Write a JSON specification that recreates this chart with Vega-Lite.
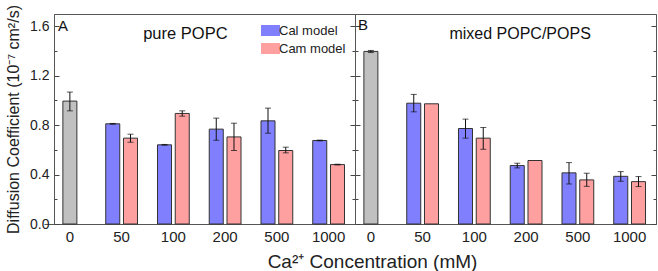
{
  "$schema": "https://vega.github.io/schema/vega-lite/v6.json",
  "padding": {"left": 5, "top": 4, "right": 1, "bottom": 0},
  "bounds": "flush",
  "datasets": {
    "popc": [
      {"conc": "0", "model": "Control", "value": 0.995, "lo": 0.916, "hi": 1.068},
      {"conc": "50", "model": "Cal model", "value": 0.811, "lo": 0.808, "hi": 0.814},
      {"conc": "50", "model": "Cam model", "value": 0.695, "lo": 0.662, "hi": 0.727},
      {"conc": "100", "model": "Cal model", "value": 0.641, "lo": 0.638, "hi": 0.644},
      {"conc": "100", "model": "Cam model", "value": 0.895, "lo": 0.873, "hi": 0.916},
      {"conc": "200", "model": "Cal model", "value": 0.768, "lo": 0.678, "hi": 0.857},
      {"conc": "200", "model": "Cam model", "value": 0.705, "lo": 0.595, "hi": 0.816},
      {"conc": "500", "model": "Cal model", "value": 0.835, "lo": 0.735, "hi": 0.938},
      {"conc": "500", "model": "Cam model", "value": 0.595, "lo": 0.576, "hi": 0.622},
      {"conc": "1000", "model": "Cal model", "value": 0.676, "lo": 0.673, "hi": 0.679},
      {"conc": "1000", "model": "Cam model", "value": 0.481, "lo": 0.478, "hi": 0.484}
    ],
    "mixed": [
      {"conc": "0", "model": "Control", "value": 1.397, "lo": 1.388, "hi": 1.405},
      {"conc": "50", "model": "Cal model", "value": 0.978, "lo": 0.908, "hi": 1.049},
      {"conc": "50", "model": "Cam model", "value": 0.973, "lo": null, "hi": null},
      {"conc": "100", "model": "Cal model", "value": 0.773, "lo": 0.695, "hi": 0.849},
      {"conc": "100", "model": "Cam model", "value": 0.695, "lo": 0.605, "hi": 0.781},
      {"conc": "200", "model": "Cal model", "value": 0.473, "lo": 0.454, "hi": 0.492},
      {"conc": "200", "model": "Cam model", "value": 0.514, "lo": null, "hi": null},
      {"conc": "500", "model": "Cal model", "value": 0.414, "lo": 0.324, "hi": 0.497},
      {"conc": "500", "model": "Cam model", "value": 0.357, "lo": 0.305, "hi": 0.411},
      {"conc": "1000", "model": "Cal model", "value": 0.386, "lo": 0.346, "hi": 0.424},
      {"conc": "1000", "model": "Cam model", "value": 0.343, "lo": 0.303, "hi": 0.384}
    ]
  },
  "spacing": 0,
  "title": {"text": "Ca²⁺ Concentration (mM)", "orient": "bottom", "anchor": "middle", "fontSize": 19, "font": "Liberation Sans", "fontWeight": "normal", "color": "#222", "offset": 8, "dx": 37},
  "hconcat": [
    {
      "width": 301, "height": 210,
      "data": {"name": "popc"},
      "layer": [
        {
          "transform": [{"filter": "datum.model != 'Control'"}],
          "mark": {"type": "bar", "stroke": "#333", "strokeWidth": 1},
          "encoding": {
            "x": {"field": "conc", "type": "nominal", "sort": ["0","50","100","200","500","1000"], "scale": {"range": [-10, 300.5], "paddingInner": 0, "paddingOuter": 0}, "axis": {"title": null, "ticks": false, "labelPadding": 5, "labelAngle": 0, "labelFontSize": 15}},
            "xOffset": {"field": "model", "type": "nominal", "scale": {"domain": ["Cal model","Cam model"], "paddingInner": 0.21, "paddingOuter": 0.563}},
            "y": {"field": "value", "type": "quantitative", "scale": {"domain": [0, 1.7], "nice": false}, "axis": {"orient": "left", "values": [0,0.2,0.4,0.6,0.8,1.0,1.2,1.4,1.6], "labelExpr": "round(datum.value*5)%2==0 ? format(datum.value, '.1f') : ''", "tickSize": {"condition": {"test": "round(datum.value*5)%2==0", "value": -5}, "value": -3}, "labelPadding": 10, "title": "Diffusion Coefficient (10⁻⁷ cm²/s)", "titleFontSize": 16, "titlePadding": 8}},
            "fill": {"field": "model", "type": "nominal", "scale": {"domain": ["Cal model","Cam model"], "range": ["#8080FF","#FFA0A0"]}, "legend": {"orient": "none", "legendX": 210, "legendY": 10, "title": null, "symbolType": "M-1.73,-1H1.73V1H-1.73Z", "symbolSize": 121, "symbolStrokeWidth": 0, "symbolOpacity": 1, "labelFontSize": 13, "labelFont": "Liberation Sans", "labelColor": "#222", "labelOffset": 2, "rowPadding": 4}}
          }
        },
        {
          "transform": [{"filter": "datum.model == 'Control'"}],
          "mark": {"type": "bar", "fill": "#C0C0C0", "stroke": "#333", "strokeWidth": 1, "width": 14},
          "encoding": {
            "x": {"field": "conc", "type": "nominal", "sort": ["0","50","100","200","500","1000"]},
            "y": {"field": "value", "type": "quantitative", "axis": {"orient": "right", "values": [0,0.2,0.4,0.6,0.8,1.0,1.2,1.4,1.6], "labels": false, "tickSize": {"condition": {"test": "round(datum.value*5)%2==0", "value": -5}, "value": -3}, "title": null}}
          }
        },
        {
          "transform": [{"filter": "datum.model != 'Control' && datum.lo != null"}],
          "mark": {"type": "rule", "color": "#111", "strokeWidth": 1},
          "encoding": {
            "x": {"field": "conc", "type": "nominal", "sort": ["0","50","100","200","500","1000"]},
            "xOffset": {"field": "model", "type": "nominal"},
            "y": {"field": "lo", "type": "quantitative", "axis": null},
            "y2": {"field": "hi"}
          }
        },
        {
          "transform": [{"filter": "datum.model != 'Control' && datum.lo != null"}],
          "mark": {"type": "tick", "color": "#111", "thickness": 1, "size": 6, "orient": "horizontal"},
          "encoding": {
            "x": {"field": "conc", "type": "nominal", "sort": ["0","50","100","200","500","1000"]},
            "xOffset": {"field": "model", "type": "nominal"},
            "y": {"field": "lo", "type": "quantitative", "axis": null}
          }
        },
        {
          "transform": [{"filter": "datum.model != 'Control' && datum.lo != null"}],
          "mark": {"type": "tick", "color": "#111", "thickness": 1, "size": 6, "orient": "horizontal"},
          "encoding": {
            "x": {"field": "conc", "type": "nominal", "sort": ["0","50","100","200","500","1000"]},
            "xOffset": {"field": "model", "type": "nominal"},
            "y": {"field": "hi", "type": "quantitative", "axis": null}
          }
        },
        {
          "transform": [{"filter": "datum.model == 'Control'"}],
          "mark": {"type": "rule", "color": "#111", "strokeWidth": 1},
          "encoding": {
            "x": {"field": "conc", "type": "nominal", "sort": ["0","50","100","200","500","1000"]},
            "y": {"field": "lo", "type": "quantitative", "axis": null},
            "y2": {"field": "hi"}
          }
        },
        {
          "transform": [{"filter": "datum.model == 'Control'"}],
          "mark": {"type": "tick", "color": "#111", "thickness": 1, "size": 6, "orient": "horizontal"},
          "encoding": {
            "x": {"field": "conc", "type": "nominal", "sort": ["0","50","100","200","500","1000"]},
            "y": {"field": "lo", "type": "quantitative", "axis": null}
          }
        },
        {
          "transform": [{"filter": "datum.model == 'Control'"}],
          "mark": {"type": "tick", "color": "#111", "thickness": 1, "size": 6, "orient": "horizontal"},
          "encoding": {
            "x": {"field": "conc", "type": "nominal", "sort": ["0","50","100","200","500","1000"]},
            "y": {"field": "hi", "type": "quantitative", "axis": null}
          }
        },
        {
          "data": {"values": [{"label": "A"}]},
          "mark": {"type": "text", "align": "left", "baseline": "alphabetic", "fontSize": 15, "font": "Liberation Sans", "color": "#111", "dx": -12},
          "encoding": {
            "x": {"datum": "0", "type": "nominal"},
            "y": {"datum": 1.562, "type": "quantitative", "axis": null},
            "text": {"field": "label"}
          }
        },
        {
          "data": {"values": [{"label": "pure POPC"}]},
          "mark": {"type": "text", "align": "center", "baseline": "alphabetic", "fontSize": 16.5, "font": "Liberation Sans", "color": "#111", "dx": 12},
          "encoding": {
            "x": {"datum": "100", "type": "nominal"},
            "y": {"datum": 1.498, "type": "quantitative", "axis": null},
            "text": {"field": "label"}
          }
        }
      ],
      "resolve": {"axis": {"y": "independent"}}
    },
    {
      "width": 301, "height": 210,
      "data": {"name": "mixed"},
      "layer": [
        {
          "transform": [{"filter": "datum.model != 'Control'"}],
          "mark": {"type": "bar", "stroke": "#333", "strokeWidth": 1},
          "encoding": {
            "x": {"field": "conc", "type": "nominal", "sort": ["0","50","100","200","500","1000"], "scale": {"range": [-10, 300.5], "paddingInner": 0, "paddingOuter": 0}, "axis": {"title": null, "ticks": false, "labelPadding": 5, "labelAngle": 0, "labelFontSize": 15}},
            "xOffset": {"field": "model", "type": "nominal", "scale": {"domain": ["Cal model","Cam model"], "paddingInner": 0.21, "paddingOuter": 0.563}},
            "y": {"field": "value", "type": "quantitative", "scale": {"domain": [0, 1.7], "nice": false}, "axis": {"orient": "left", "values": [0,0.2,0.4,0.6,0.8,1.0,1.2,1.4,1.6], "labels": false, "tickSize": {"condition": {"test": "round(datum.value*5)%2==0", "value": -5}, "value": -3}, "title": null}},
            "fill": {"field": "model", "type": "nominal", "scale": {"domain": ["Cal model","Cam model"], "range": ["#8080FF","#FFA0A0"]}, "legend": {"orient": "none", "legendX": 210, "legendY": 10, "title": null, "symbolType": "M-1.73,-1H1.73V1H-1.73Z", "symbolSize": 121, "symbolStrokeWidth": 0, "symbolOpacity": 1, "labelFontSize": 13, "labelFont": "Liberation Sans", "labelColor": "#222", "labelOffset": 2, "rowPadding": 4}}
          }
        },
        {
          "transform": [{"filter": "datum.model == 'Control'"}],
          "mark": {"type": "bar", "fill": "#C0C0C0", "stroke": "#333", "strokeWidth": 1, "width": 14},
          "encoding": {
            "x": {"field": "conc", "type": "nominal", "sort": ["0","50","100","200","500","1000"]},
            "y": {"field": "value", "type": "quantitative", "axis": {"orient": "right", "values": [0,0.2,0.4,0.6,0.8,1.0,1.2,1.4,1.6], "labels": false, "tickSize": {"condition": {"test": "round(datum.value*5)%2==0", "value": -5}, "value": -3}, "title": null}}
          }
        },
        {
          "transform": [{"filter": "datum.model != 'Control' && datum.lo != null"}],
          "mark": {"type": "rule", "color": "#111", "strokeWidth": 1},
          "encoding": {
            "x": {"field": "conc", "type": "nominal", "sort": ["0","50","100","200","500","1000"]},
            "xOffset": {"field": "model", "type": "nominal"},
            "y": {"field": "lo", "type": "quantitative", "axis": null},
            "y2": {"field": "hi"}
          }
        },
        {
          "transform": [{"filter": "datum.model != 'Control' && datum.lo != null"}],
          "mark": {"type": "tick", "color": "#111", "thickness": 1, "size": 6, "orient": "horizontal"},
          "encoding": {
            "x": {"field": "conc", "type": "nominal", "sort": ["0","50","100","200","500","1000"]},
            "xOffset": {"field": "model", "type": "nominal"},
            "y": {"field": "lo", "type": "quantitative", "axis": null}
          }
        },
        {
          "transform": [{"filter": "datum.model != 'Control' && datum.lo != null"}],
          "mark": {"type": "tick", "color": "#111", "thickness": 1, "size": 6, "orient": "horizontal"},
          "encoding": {
            "x": {"field": "conc", "type": "nominal", "sort": ["0","50","100","200","500","1000"]},
            "xOffset": {"field": "model", "type": "nominal"},
            "y": {"field": "hi", "type": "quantitative", "axis": null}
          }
        },
        {
          "transform": [{"filter": "datum.model == 'Control'"}],
          "mark": {"type": "rule", "color": "#111", "strokeWidth": 1},
          "encoding": {
            "x": {"field": "conc", "type": "nominal", "sort": ["0","50","100","200","500","1000"]},
            "y": {"field": "lo", "type": "quantitative", "axis": null},
            "y2": {"field": "hi"}
          }
        },
        {
          "transform": [{"filter": "datum.model == 'Control'"}],
          "mark": {"type": "tick", "color": "#111", "thickness": 1, "size": 6, "orient": "horizontal"},
          "encoding": {
            "x": {"field": "conc", "type": "nominal", "sort": ["0","50","100","200","500","1000"]},
            "y": {"field": "lo", "type": "quantitative", "axis": null}
          }
        },
        {
          "transform": [{"filter": "datum.model == 'Control'"}],
          "mark": {"type": "tick", "color": "#111", "thickness": 1, "size": 6, "orient": "horizontal"},
          "encoding": {
            "x": {"field": "conc", "type": "nominal", "sort": ["0","50","100","200","500","1000"]},
            "y": {"field": "hi", "type": "quantitative", "axis": null}
          }
        },
        {
          "data": {"values": [{"label": "B"}]},
          "mark": {"type": "text", "align": "left", "baseline": "alphabetic", "fontSize": 15, "font": "Liberation Sans", "color": "#111", "dx": -13},
          "encoding": {
            "x": {"datum": "0", "type": "nominal"},
            "y": {"datum": 1.57, "type": "quantitative", "axis": null},
            "text": {"field": "label"}
          }
        },
        {
          "data": {"values": [{"label": "mixed POPC/POPS"}]},
          "mark": {"type": "text", "align": "center", "baseline": "alphabetic", "fontSize": 16, "font": "Liberation Sans", "color": "#111", "dx": -6},
          "encoding": {
            "x": {"datum": "200", "type": "nominal"},
            "y": {"datum": 1.498, "type": "quantitative", "axis": null},
            "text": {"field": "label"}
          }
        }
      ],
      "resolve": {"axis": {"y": "independent"}}
    }
  ],
  "config": {
    "view": {"stroke": "#555", "strokeWidth": 1},
    "axis": {"labelFont": "Liberation Sans", "titleFont": "Liberation Sans", "labelFontSize": 14, "titleFontSize": 14, "labelColor": "#222", "titleColor": "#222", "titleFontWeight": "normal", "domainColor": "#555", "tickColor": "#444", "grid": false},
    "text": {"font": "Liberation Sans"}
  }
}
